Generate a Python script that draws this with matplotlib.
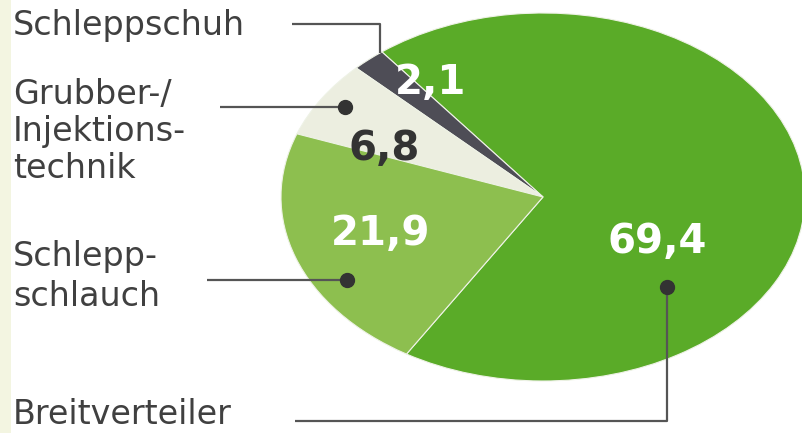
import matplotlib.pyplot as plt
from matplotlib.patches import Rectangle

# data
labels = ['Breitverteiler', 'Schleppschuh', 'Grubber-/\nInjektions-\ntechnik', 'Schlepp-\nschlauch']
values = [69.4, 2.1, 6.8, 21.9]
value_text = ['69,4', '2,1', '6,8', '21,9']
colors = ['#5aab28', '#4e4d56', '#eceee0', '#8dbf4f']
value_colors = ['white', 'white', '#333333', 'white']

W, H = 802, 433
fig = plt.figure(figsize=(W / 100, H / 100), dpi=100)
fig.patch.set_facecolor('white')

# background layer in pixel coords
bg = fig.add_axes([0, 0, 1, 1])
bg.set_xlim(0, W)
bg.set_ylim(H, 0)
bg.axis('off')
bg.add_patch(Rectangle((0, 0), 11, H, color='#f3f5e1', lw=0))

# pie, squeezed into an ellipse
cx, cy, rx, ry = 543, 197, 262, 184
pax = fig.add_axes([(cx - rx) / W, (H - cy - ry) / H, 2 * rx / W, 2 * ry / H])
pax.pie(values, colors=colors, startangle=238.6, counterclock=True, radius=1,
        wedgeprops=dict(linewidth=0.8, edgecolor='#eef2e6'))
pax.set_aspect('auto')
pax.set_xlim(-1, 1)
pax.set_ylim(-1, 1)
pax.axis('off')

# annotation layer
ov = fig.add_axes([0, 0, 1, 1], zorder=5)
ov.set_xlim(0, W)
ov.set_ylim(H, 0)
ov.axis('off')
ov.patch.set_alpha(0)

# label text (baseline of first line), leader paths, dot or not
label_pos = [(13, 424), (13, 35), (13, 104), (13, 266)]
line_h = [38, 38, 37, 40]
leaders = [
    ([295, 667, 667], [421, 421, 287], True),
    ([292, 380, 380], [24, 24, 53], False),
    ([220, 345], [107, 107], True),
    ([207, 347], [280, 280], True),
]
num_pos = [(657, 253), (431, 94), (384, 160), (381, 245)]

for i, lab in enumerate(labels):
    x0, y0 = label_pos[i]
    for j, line in enumerate(lab.split('\n')):
        ov.text(x0, y0 + j * line_h[i], line, fontsize=24, color='#404040',
                ha='left', va='baseline', family='DejaVu Sans')
    xs, ys, dot = leaders[i]
    ov.plot(xs, ys, color='#555555', lw=1.6, solid_capstyle='butt')
    if dot:
        ov.plot(xs[-1], ys[-1], 'o', color='#333333', ms=10)
    nx, ny = num_pos[i]
    ov.text(nx, ny, value_text[i], fontsize=29, fontweight='bold',
            color=value_colors[i], ha='center', va='baseline', family='DejaVu Sans')

fig.savefig('out.png', dpi=100)
